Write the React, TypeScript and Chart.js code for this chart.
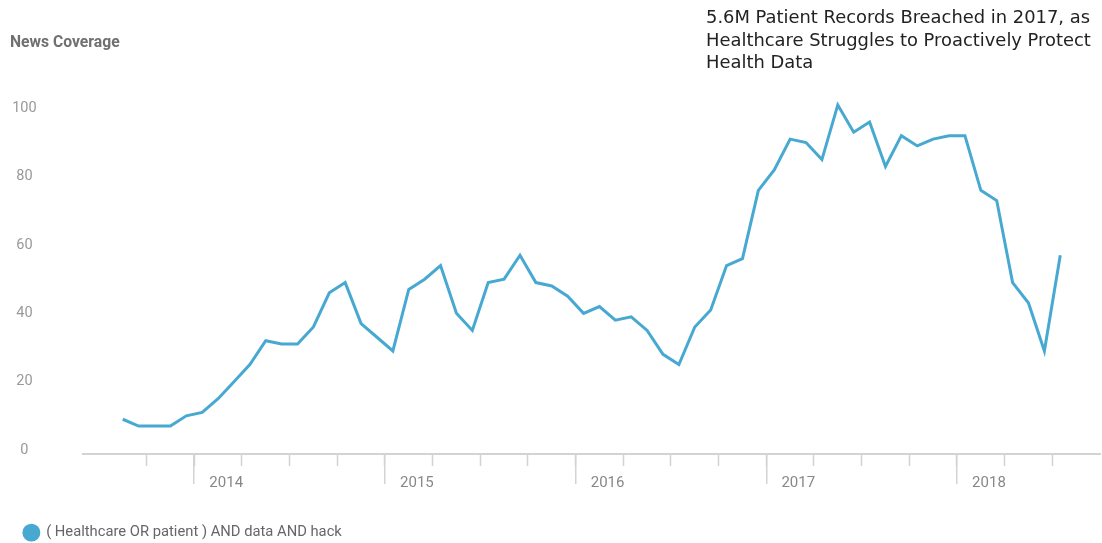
import React, { useEffect, useRef } from 'react';
import { Chart, registerables } from 'chart.js';

Chart.register(...registerables);

// ---- Data ----
const months = [
  '2013-08', '2013-09', '2013-10', '2013-11', '2013-12',
  '2014-01', '2014-02', '2014-03', '2014-04', '2014-05', '2014-06', '2014-07', '2014-08', '2014-09', '2014-10', '2014-11', '2014-12',
  '2015-01', '2015-02', '2015-03', '2015-04', '2015-05', '2015-06', '2015-07', '2015-08', '2015-09', '2015-10', '2015-11', '2015-12',
  '2016-01', '2016-02', '2016-03', '2016-04', '2016-05', '2016-06', '2016-07', '2016-08', '2016-09', '2016-10', '2016-11', '2016-12',
  '2017-01', '2017-02', '2017-03', '2017-04', '2017-05', '2017-06', '2017-07', '2017-08', '2017-09', '2017-10', '2017-11', '2017-12',
  '2018-01', '2018-02', '2018-03', '2018-04', '2018-05', '2018-06', '2018-07',
];

const coverage = [
  9, 7, 7, 7, 10,
  11, 15, 20, 25, 32, 31, 31, 36, 46, 49, 37, 33,
  29, 47, 50, 54, 40, 35, 49, 50, 57, 49, 48, 45,
  40, 42, 38, 39, 35, 28, 25, 36, 41, 54, 56, 76,
  82, 91, 90, 85, 101, 93, 96, 83, 92, 89, 91, 92,
  92, 76, 73, 49, 43, 29, 57,
];

const seriesLabel = '( Healthcare OR patient ) AND data AND hack';

const quarterTicks = [
  '2013-10',
  '2014-01', '2014-04', '2014-07', '2014-10',
  '2015-01', '2015-04', '2015-07', '2015-10',
  '2016-01', '2016-04', '2016-07', '2016-10',
  '2017-01', '2017-04', '2017-07', '2017-10',
  '2018-01', '2018-04', '2018-07',
];

const yearTicks = ['2014-01', '2015-01', '2016-01', '2017-01', '2018-01'];
const yearLabels = ['2014', '2015', '2016', '2017', '2018'];

const yTicks = [0, 20, 40, 60, 80, 100];

const axisStartMonth = '2013-06';
const axisEndMonth = '2018-10';

const titleLines = [
  '5.6M Patient Records Breached in 2017, as',
  'Healthcare Struggles to Proactively Protect',
  'Health Data',
];
const yTitle = 'News Coverage';

// month string -> position on a linear month axis (Jan 2014 start = 0)
const monthStart = (m: string) => {
  const [y, mo] = m.split('-').map(Number);
  return (y - 2014) * 12 + (mo - 1);
};
const monthMid = (m: string) => monthStart(m) + 0.5;

const LINE_COLOR = '#47a9d1';
const AXIS_COLOR = '#d3d3d3';

const alignPixel = (pixel: number, width: number) => {
  const half = width / 2;
  return Math.round(pixel - half) + half;
};

const yearTickPlugin = {
  id: 'yearTicks',
  afterDraw(chart: any) {
    const xs = chart.scales.x;
    const ctx = chart.ctx;
    ctx.save();
    ctx.strokeStyle = AXIS_COLOR;
    ctx.lineWidth = 1.5;
    yearTicks.forEach((m) => {
      const px = alignPixel(xs.getPixelForValue(monthStart(m)), 1.5);
      ctx.beginPath();
      ctx.moveTo(px, xs.top);
      ctx.lineTo(px, xs.top + 30);
      ctx.stroke();
    });
    ctx.restore();
  },
};

export default function App() {
  const canvasRef = useRef<HTMLCanvasElement | null>(null);

  useEffect(() => {
    if (!canvasRef.current) return;
    const yearStartValues = yearTicks.map(monthStart);
    const chart = new Chart(canvasRef.current, {
      type: 'line',
      data: {
        datasets: [
          {
            label: seriesLabel,
            data: months.map((m, i) => ({ x: monthMid(m), y: coverage[i] })),
            borderColor: LINE_COLOR,
            backgroundColor: LINE_COLOR,
            borderWidth: 3,
            pointRadius: 0,
            pointHoverRadius: 0,
            tension: 0,
            borderJoinStyle: 'miter',
            clip: false as any,
          },
        ],
      },
      options: {
        responsive: false,
        animation: false,
        devicePixelRatio: 1,
        layout: { padding: { left: 10, right: 2, top: 0, bottom: 0 } },
        plugins: {
          title: {
            display: true,
            text: yTitle,
            align: 'start',
            color: '#707070',
            font: { family: 'Roboto', size: 15.7, weight: 'bold' },
            lineHeight: 1.2,
            padding: { top: 33.6, bottom: 55.9 },
          },
          legend: {
            display: true,
            position: 'bottom',
            align: 'start',
            labels: {
              usePointStyle: true,
              pointStyle: 'circle',
              boxHeight: 10.6,
              padding: 14,
              color: '#666',
              font: { family: 'Roboto', size: 14.75 },
            },
          },
          tooltip: { enabled: false },
        },
        scales: {
          x: {
            type: 'linear',
            min: monthStart(axisStartMonth),
            max: monthStart(axisEndMonth),
            afterBuildTicks: (scale: any) => {
              scale.ticks = quarterTicks.map((m) => ({ value: monthStart(m) }));
            },
            afterFit: (scale: any) => {
              scale.height = 57.25;
            },
            grid: {
              drawOnChartArea: false,
              drawTicks: true,
              tickLength: 12,
              tickColor: AXIS_COLOR,
              tickWidth: 1.5,
            },
            border: { display: true, color: AXIS_COLOR, width: 2 },
            ticks: {
              autoSkip: false,
              maxRotation: 0,
              minRotation: 0,
              labelOffset: 32,
              padding: 8,
              color: '#888',
              font: { family: 'Roboto', size: 15 },
              callback: (value: any) => {
                const idx = yearStartValues.indexOf(Number(value));
                return idx >= 0 ? yearLabels[idx] : '';
              },
            },
          },
          y: {
            min: -1.17,
            max: 100,
            afterBuildTicks: (scale: any) => {
              scale.ticks = yTicks.map((v) => ({ value: v }));
            },
            afterFit: (scale: any) => {
              scale.width = 73;
            },
            grid: { display: false, drawTicks: false },
            border: { display: false },
            ticks: {
              crossAlign: 'center',
              padding: 46.35,
              color: '#999',
              font: { family: 'Roboto', size: 14.5 },
            },
          },
        },
      } as any,
      plugins: [yearTickPlugin],
    });
    return () => chart.destroy();
  }, []);

  return (
    <div
      style={{
        position: 'fixed',
        left: 0,
        top: 0,
        width: 1102,
        height: 543,
        overflow: 'hidden',
        background: '#fff',
      }}
    >
      <canvas ref={canvasRef} width={1102} height={550} style={{ width: 1102, height: 550, display: 'block' }} />
      <div
        style={{
          position: 'absolute',
          left: 706,
          top: 6,
          fontFamily: '"DejaVu Sans"',
          fontSize: 17.9,
          lineHeight: '22.7px',
          color: '#222',
          whiteSpace: 'nowrap',
        }}
      >
        {titleLines.map((l, i) => (
          <div key={i}>{l}</div>
        ))}
      </div>
    </div>
  );
}
